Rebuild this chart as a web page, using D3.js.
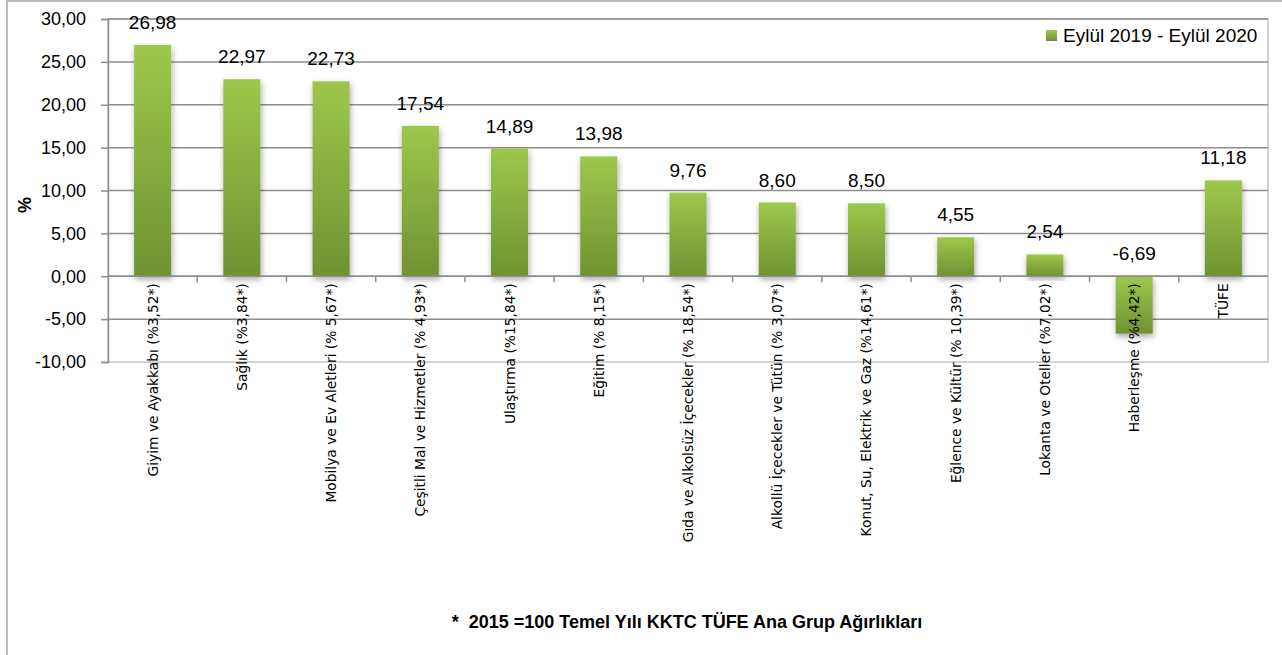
<!DOCTYPE html>
<html>
<head>
<meta charset="utf-8">
<script src="https://cdn.jsdelivr.net/npm/d3@7"></script>
<style>
  html, body { margin: 0; padding: 0; background: #fff; }
  svg { display: block; }
</style>
</head>
<body>
<svg id="chart" width="1282" height="655"></svg>
<script>
// ---- data ----
const categories = [
  "Giyim ve Ayakkabı (%3,52*)",
  "Sağlık (%3,84*)",
  "Mobilya ve Ev Aletleri (% 5,67*)",
  "Çeşitli Mal ve Hizmetler (% 4,93*)",
  "Ulaştırma (%15,84*)",
  "Eğitim (% 8,15*)",
  "Gıda ve Alkolsüz İçecekler (% 18,54*)",
  "Alkollü İçecekler ve Tütün (% 3,07*)",
  "Konut, Su, Elektrik ve Gaz (%14,61*)",
  "Eğlence ve Kültür (% 10,39*)",
  "Lokanta ve Oteller (%7,02*)",
  "Haberleşme (%4,42*)",
  "TÜFE"
];
const values = [26.98, 22.97, 22.73, 17.54, 14.89, 13.98, 9.76, 8.60, 8.50, 4.55, 2.54, -6.69, 11.18];
const yTicks = [-10, -5, 0, 5, 10, 15, 20, 25, 30];
const seriesName = "Eylül 2019 - Eylül 2020";
const yTitle = "%";
const footnote = "*  2015 =100 Temel Yılı KKTC TÜFE Ana Grup Ağırlıkları";

// ---- layout ----
const svg = d3.select("#chart");
const plot = { left: 108, right: 1268, top: 19, bottom: 362 };
const fmt = v => d3.format(".2f")(v).replace(".", ",").replace("\u2212", "-");
const numFont = "'Liberation Sans', Arial, sans-serif";

const x = d3.scaleBand().domain(categories).range([plot.left, plot.right]).paddingInner(0.585).paddingOuter(0.2925);
const xb = d3.scaleBand().domain(categories).range([plot.left, plot.right]).padding(0);
const y = d3.scaleLinear().domain([-10, 30]).range([plot.bottom, plot.top]);

const defs = svg.append("defs");
const grad = defs.append("linearGradient").attr("id", "barGrad").attr("x1", 0).attr("y1", 0).attr("x2", 0).attr("y2", 1);
grad.append("stop").attr("offset", "0%").attr("stop-color", "#9dc84b");
grad.append("stop").attr("offset", "100%").attr("stop-color", "#6f9232");
const shadow = defs.append("filter").attr("id", "shadow").attr("x", "-30%").attr("y", "-10%").attr("width", "160%").attr("height", "130%");
shadow.append("feDropShadow").attr("dx", 1).attr("dy", 3).attr("stdDeviation", 3).attr("flood-color", "#000").attr("flood-opacity", 0.35);

// outer chart border
svg.append("rect").attr("x", 7).attr("y", 1).attr("width", 1300).attr("height", 700)
  .attr("fill", "none").attr("stroke", "#a6a6a6").attr("stroke-width", 1.5);

// plot area border
svg.append("rect").attr("x", plot.left).attr("y", plot.top)
  .attr("width", plot.right - plot.left).attr("height", plot.bottom - plot.top)
  .attr("fill", "none").attr("stroke", "#c4c4c4").attr("stroke-width", 1.5);

// gridlines
svg.append("g").selectAll("line").data(yTicks.filter(t => t !== -10)).join("line")
  .attr("x1", plot.left).attr("x2", plot.right)
  .attr("y1", d => y(d)).attr("y2", d => y(d))
  .attr("stroke", "#8e8e8e").attr("stroke-width", 1.5);

// y axis
const yAxis = d3.axisLeft(y).tickValues(yTicks).tickSize(7).tickPadding(15).tickFormat(fmt);
const gy = svg.append("g").attr("transform", `translate(${plot.left},0)`).call(yAxis);
gy.select(".domain").attr("stroke", "#8e8e8e").attr("stroke-width", 1.5);
gy.selectAll(".tick line").attr("stroke", "#8e8e8e").attr("stroke-width", 1.5);
gy.selectAll(".tick text").attr("fill", "#000").style("font-family", numFont).style("font-size", "18px");

// bars
svg.append("g").selectAll("rect").data(values).join("rect")
  .attr("x", (d, i) => x(categories[i]))
  .attr("width", x.bandwidth())
  .attr("y", d => y(Math.max(0, d)))
  .attr("height", d => Math.abs(y(d) - y(0)))
  .attr("fill", "url(#barGrad)")
  .attr("filter", "url(#shadow)");

// x axis (zero line with ticks at category boundaries)
svg.append("line").attr("x1", plot.left).attr("x2", plot.right).attr("y1", y(0)).attr("y2", y(0))
  .attr("stroke", "#8e8e8e").attr("stroke-width", 1.5);
svg.append("g").selectAll("line").data(categories.slice(1)).join("line")
  .attr("x1", d => xb(d)).attr("x2", d => xb(d))
  .attr("y1", y(0)).attr("y2", y(0) + 6)
  .attr("stroke", "#8e8e8e").attr("stroke-width", 1.5);

// category labels
svg.append("g").selectAll("text").data(categories).join("text")
  .attr("transform", d => `translate(${xb(d) + xb.bandwidth() / 2 + 5},${y(0) + 7}) rotate(-90)`)
  .attr("text-anchor", "end")
  .style("font-family", "'DejaVu Sans', Verdana, sans-serif")
  .style("font-size", "13.8px")
  .attr("fill", "#000")
  .text(d => d);

// value labels
svg.append("g").selectAll("text").data(values).join("text")
  .attr("x", (d, i) => x(categories[i]) + x.bandwidth() / 2)
  .attr("y", d => y(Math.max(0, d)) - 16)
  .attr("text-anchor", "middle")
  .style("font-family", numFont)
  .style("font-size", "19px")
  .attr("fill", "#000")
  .text(d => fmt(d));

// y title
svg.append("text").attr("transform", "translate(31,205) rotate(-90)")
  .attr("text-anchor", "middle")
  .style("font-family", numFont)
  .style("font-size", "18px").style("font-weight", "bold")
  .text(yTitle);

// legend
const lg = svg.append("g").attr("transform", "translate(1046,30)");
lg.append("rect").attr("width", 11).attr("height", 11).attr("fill", "url(#barGrad)");
lg.append("text").attr("x", 17).attr("y", 12)
  .style("font-family", numFont)
  .style("font-size", "19px").attr("fill", "#000")
  .text(seriesName);

// footnote
svg.append("text").attr("x", 687).attr("y", 628).attr("text-anchor", "middle")
  .style("font-family", numFont)
  .style("font-size", "18px").style("font-weight", "bold")
  .style("white-space", "pre")
  .text(footnote);
</script>
</body>
</html>
